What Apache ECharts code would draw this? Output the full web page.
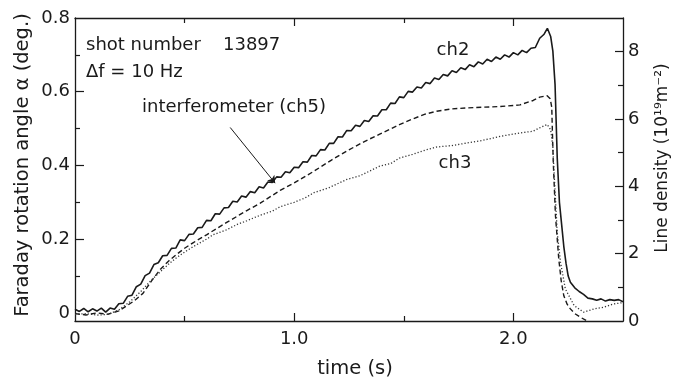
<!DOCTYPE html>
<html><head><meta charset="utf-8">
<script src="https://cdn.jsdelivr.net/npm/echarts@6/dist/echarts.min.js"></script>
<style>html,body{margin:0;padding:0;background:#fff}#c{width:681px;height:380px}</style>
</head><body><div id="c"></div>
<script>
// ---- data ----
// ch2: Faraday rotation angle (deg.), solid
const tCh2 = [0,0.02,0.04,0.06,0.08,0.10,0.12,0.14,0.16,0.18,0.20,0.22,0.24,0.26,0.28,0.30,0.32,0.34,0.36,0.38,0.40,0.42,0.44,0.46,0.48,0.50,0.52,0.54,0.56,0.58,0.60,0.62,0.64,0.66,0.68,0.70,0.72,0.74,0.76,0.78,0.80,0.82,0.84,0.86,0.88,0.90,0.92,0.94,0.96,0.98,1.00,1.02,1.04,1.06,1.08,1.10,1.12,1.14,1.16,1.18,1.20,1.22,1.24,1.26,1.28,1.30,1.32,1.34,1.36,1.38,1.40,1.42,1.44,1.46,1.48,1.50,1.52,1.54,1.56,1.58,1.60,1.62,1.64,1.66,1.68,1.70,1.72,1.74,1.76,1.78,1.80,1.82,1.84,1.86,1.88,1.90,1.92,1.94,1.96,1.98,2.00,2.02,2.04,2.06,2.08,2.10,2.12,2.14,2.155,2.17,2.18,2.19,2.20,2.21,2.22,2.23,2.24,2.25,2.26,2.28,2.30,2.32,2.34,2.36,2.38,2.40,2.42,2.44,2.46,2.48,2.50];
const vCh2 = [0.010,0.004,0.012,0.003,0.011,0.005,0.013,0.002,0.013,0.010,0.025,0.026,0.045,0.048,0.071,0.078,0.101,0.108,0.131,0.136,0.155,0.156,0.175,0.176,0.198,0.196,0.213,0.214,0.231,0.232,0.251,0.250,0.269,0.268,0.285,0.286,0.303,0.301,0.317,0.314,0.329,0.326,0.342,0.339,0.355,0.354,0.369,0.368,0.383,0.380,0.395,0.394,0.410,0.409,0.427,0.426,0.443,0.442,0.460,0.460,0.478,0.477,0.495,0.494,0.509,0.506,0.522,0.519,0.535,0.534,0.551,0.551,0.569,0.568,0.586,0.584,0.601,0.599,0.613,0.610,0.625,0.622,0.637,0.633,0.647,0.643,0.657,0.652,0.665,0.660,0.673,0.668,0.681,0.675,0.688,0.682,0.694,0.688,0.700,0.694,0.706,0.700,0.712,0.706,0.718,0.720,0.745,0.756,0.772,0.750,0.710,0.620,0.420,0.300,0.240,0.180,0.135,0.100,0.083,0.068,0.058,0.050,0.040,0.038,0.034,0.038,0.032,0.036,0.034,0.036,0.030];
// ch5: interferometer line density (10^19 m^-2), dashed
const tCh5 = [0,0.05,0.10,0.15,0.20,0.236,0.27,0.31,0.35,0.39,0.43,0.464,0.50,0.54,0.60,0.63,0.69,0.75,0.784,0.845,0.936,1.00,1.09,1.17,1.24,1.32,1.39,1.48,1.54,1.60,1.65,1.72,1.79,1.86,1.94,2.03,2.09,2.12,2.154,2.168,2.175,2.178,2.182,2.192,2.207,2.218,2.23,2.245,2.26,2.28,2.306,2.336];
const vCh5 = [0.22,0.18,0.24,0.20,0.30,0.45,0.60,0.82,1.20,1.54,1.80,1.98,2.16,2.33,2.56,2.68,2.92,3.15,3.28,3.50,3.88,4.10,4.45,4.78,5.05,5.33,5.55,5.83,6.00,6.15,6.23,6.30,6.33,6.35,6.37,6.42,6.55,6.65,6.69,6.60,6.35,5.60,4.70,3.12,1.84,1.20,0.75,0.50,0.36,0.22,0.11,0.00];
// ch3: Faraday rotation angle (deg.), dotted
const tCh3 = [0,0.05,0.10,0.15,0.20,0.25,0.30,0.35,0.39,0.43,0.464,0.50,0.54,0.60,0.63,0.69,0.74,0.784,0.845,0.90,0.936,1.00,1.05,1.09,1.16,1.24,1.30,1.39,1.44,1.48,1.54,1.60,1.65,1.72,1.79,1.86,1.94,2.03,2.09,2.12,2.154,2.17,2.18,2.184,2.20,2.215,2.237,2.277,2.32,2.37,2.41,2.456,2.50];
const vCh3 = [-0.004,-0.002,-0.006,-0.004,0.008,0.030,0.058,0.090,0.112,0.134,0.150,0.165,0.180,0.200,0.212,0.225,0.240,0.250,0.265,0.276,0.288,0.300,0.312,0.326,0.340,0.362,0.372,0.398,0.405,0.420,0.430,0.442,0.450,0.454,0.461,0.468,0.479,0.488,0.493,0.502,0.511,0.497,0.450,0.398,0.218,0.137,0.065,0.020,0.002,0.011,0.015,0.024,0.028];
// axis tick labels
const xLabels = [0, 1, 2];
const leftLabels = [0, 0.2, 0.4, 0.6, 0.8];
const rightLabels = [0, 2, 4, 6, 8];

// ---- chart ----
const INK = '#1a1a1a';
const FONT = '"DejaVu Sans", sans-serif';
const pairs = (t, v) => t.map((x, i) => [x, v[i]]);
const fmt = v => v === 0 ? '0' : v.toFixed(1);
const lbl = {color: INK, fontFamily: FONT, fontSize: 18};

function xAx(pos, ticks, len, labels, line) {
  return {
    type: 'value', position: pos, min: 0, max: 2.5,
    axisLine: {show: line, onZero: false, lineStyle: {color: INK, width: 1.3}},
    axisTick: {show: true, inside: true, length: len, customValues: ticks, lineStyle: {color: INK, width: 1.2}},
    axisLabel: labels ? Object.assign({show: true, customValues: labels, formatter: fmt, margin: 9}, lbl) : {show: false},
    splitLine: {show: false}
  };
}
function yAx(pos, min, max, ticks, len, labels, line, f) {
  return {
    type: 'value', position: pos, min: min, max: max,
    axisLine: {show: line, onZero: false, lineStyle: {color: INK, width: 1.3}},
    axisTick: {show: true, inside: true, length: len, customValues: ticks, lineStyle: {color: INK, width: 1.2}},
    axisLabel: labels ? Object.assign({show: true, customValues: labels, formatter: f, margin: 5}, lbl) : {show: false},
    splitLine: {show: false}
  };
}

const chart = echarts.init(document.getElementById('c'), null, {renderer: 'canvas'});
const option = {
  animation: false,
  backgroundColor: '#fff',
  grid: {left: 75, right: 58, top: 18, bottom: 59},
  xAxis: [
    xAx('bottom', [1, 2], 8, xLabels, true),
    xAx('bottom', [0.5, 1.5], 5, null, false),
    xAx('top', [1, 2], 8, null, true),
    xAx('top', [0.5, 1.5], 5, null, false)
  ],
  yAxis: [
    yAx('left', -0.022, 0.8, [0.2, 0.4, 0.6], 9, leftLabels, true, fmt),
    yAx('left', -0.022, 0.8, [0.1, 0.3, 0.5, 0.7], 5, null, false),
    yAx('right', 0, 9, [2, 4, 6, 8], 8, rightLabels, true, v => String(v)),
    yAx('right', 0, 9, [1, 3, 5, 7], 5, null, false)
  ],
  series: [
    {name: 'ch2', type: 'line', xAxisIndex: 0, yAxisIndex: 0, data: pairs(tCh2, vCh2),
     showSymbol: false, symbol: 'none', lineStyle: {color: INK, width: 1.6},
     markLine: {silent: true, symbol: ['none', 'arrow'], symbolSize: 7, label: {show: false},
       lineStyle: {color: INK, width: 1, type: 'solid'},
       data: [[{coord: [0.708, 0.503]}, {coord: [0.913, 0.352]}]]}},
    {name: 'ch5', type: 'line', xAxisIndex: 0, yAxisIndex: 2, data: pairs(tCh5, vCh5),
     showSymbol: false, symbol: 'none', lineStyle: {color: INK, width: 1.4, type: [5, 3]}},
    {name: 'ch3', type: 'line', xAxisIndex: 0, yAxisIndex: 0, data: pairs(tCh3, vCh3),
     showSymbol: false, symbol: 'none', lineStyle: {color: '#333', width: 1.3, type: [1.2, 2]}}
  ],
  graphic: [
    {type: 'text', x: 86, y: 45, style: {text: 'shot number', font: '18px ' + FONT, fill: INK, textVerticalAlign: 'middle'}},
    {type: 'text', x: 223, y: 45, style: {text: '13897', font: '18px ' + FONT, fill: INK, textVerticalAlign: 'middle'}},
    {type: 'text', x: 86, y: 72, style: {text: 'Δf = 10 Hz', font: '18px ' + FONT, fill: INK, textVerticalAlign: 'middle'}},
    {type: 'text', x: 142, y: 107, style: {text: 'interferometer (ch5)', font: '18px ' + FONT, fill: INK, textVerticalAlign: 'middle'}},
    {type: 'text', x: 453, y: 50, style: {text: 'ch2', font: '18px ' + FONT, fill: INK, textAlign: 'center', textVerticalAlign: 'middle'}},
    {type: 'text', x: 455, y: 163, style: {text: 'ch3', font: '18px ' + FONT, fill: INK, textAlign: 'center', textVerticalAlign: 'middle'}},
    {type: 'text', x: 23, y: 165, rotation: Math.PI / 2, style: {text: 'Faraday rotation angle α (deg.)', font: '19.5px ' + FONT, fill: INK, textAlign: 'center', textVerticalAlign: 'middle'}},
    {type: 'text', x: 663, y: 158, rotation: Math.PI / 2, style: {text: 'Line density (10¹⁹m⁻²)', font: '17px ' + FONT, fill: INK, textAlign: 'center', textVerticalAlign: 'middle'}},
    {type: 'text', x: 355, y: 369, style: {text: 'time (s)', font: '19.5px ' + FONT, fill: INK, textAlign: 'center', textVerticalAlign: 'middle'}}
  ]
};
chart.setOption(option);
</script></body></html>
